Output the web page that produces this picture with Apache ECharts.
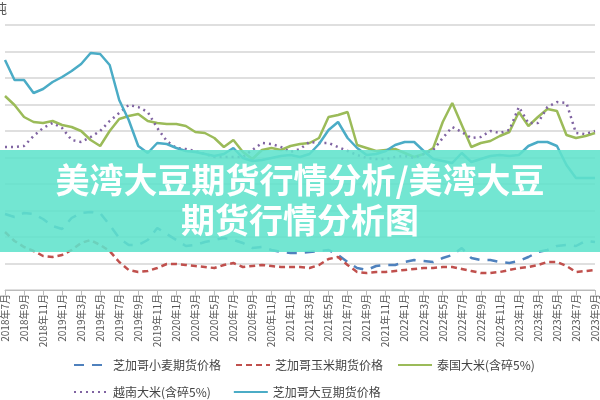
<!DOCTYPE html>
<html><head><meta charset="utf-8">
<script src="https://cdn.jsdelivr.net/npm/echarts@6/dist/echarts.min.js"></script>
<style>html,body{margin:0;padding:0;background:#fff}#c{width:600px;height:400px}</style>
</head><body><div id="c"></div>
<script>
const categories = [];
(function(){let y=2018,m=7;for(let i=0;i<63;i++){categories.push(y+'年'+m+'月');m++;if(m>12){m=1;y++;}}})();
const wheat = [76,73,77,76,71,64,61,72,77,78,77,65,52,45,45,50,62,56,50,44,45,48,50,52,50,47,42,43,40,38,37,37,38,39,40,35,28,22,20,24,25,25,28,30,29,28,32,35,42,32,30,30,28,27,29,33,38,40,44,45,44,49,48];
const corn = [58,49,43,39,34,33,35,40,47,50,45,39,28,20,18,19,22,26,26,25,24,23,22,25,27,23,24,25,24,23,23,23,22,25,31,33,25,18,17,18,18,19,20,21,22,22,23,23,21,19,17,17,18,20,22,23,25,28,28,24,18,19,20];
const thaiRice = [194,185,173,168,167,169,165,163,159,150,144,159,171,174,176,169,167,166,166,164,158,157,152,143,150,138,131,140,142,140,144,146,147,152,173,175,178,145,142,139,140,141,137,133,136,142,168,187,165,143,147,149,154,158,178,164,173,181,179,155,152,154,157];
const vietRice = [143,143,144,154,162,167,162,150,148,153,159,169,177,185,183,178,162,149,142,141,139,136,133,133,133,133,140,147,146,143,138,141,148,147,147,143,139,135,132,131,131,133,134,132,136,140,152,163,158,152,153,159,157,160,183,167,167,183,188,187,157,156,159];
const soybean = [230,210,210,197,201,208,213,219,226,237,236,225,190,170,144,137,147,146,142,139,138,136,134,136,142,132,129,130,132,134,135,133,136,146,160,168,152,142,135,136,139,145,148,148,139,131,129,127,137,128,131,134,135,134,135,144,148,148,144,125,112,112,112];
const names = ['芝加哥小麦期货价格','芝加哥玉米期货价格','泰国大米(含碎5%)','越南大米(含碎5%)','芝加哥大豆期货价格'];
const chart = echarts.init(document.getElementById('c'));
const ln = (name,data,color,type,w)=>({name,type:'line',data,symbol:'none',showSymbol:false,smooth:false,lineStyle:{color,width:w,type},itemStyle:{color}});
const txt = {fontSize:12,color:'#444',fontFamily:'Noto Sans CJK SC'};
const lg = {itemWidth:34,itemHeight:10,textStyle:txt,itemStyle:{opacity:0}};
chart.setOption({
  animation:false,
  grid:{left:3,right:5,top:25,bottom:110},
  xAxis:{type:'category',data:categories,boundaryGap:false,
    axisLine:{lineStyle:{color:'#bbb'}},axisTick:{show:true,interval:1,lineStyle:{color:'#bbb'}},
    axisLabel:{rotate:90,interval:1,fontSize:10,color:'#555',fontFamily:'Noto Sans CJK SC',margin:4}},
  yAxis:{type:'value',min:0,max:265,interval:26.5,axisLabel:{show:false},axisLine:{show:false},axisTick:{show:false},
    splitLine:{lineStyle:{color:'#d4d4d4',width:1.5}}},
  legend:[
    Object.assign({data:names.slice(0,3),left:68,top:354,itemGap:14},lg),
    Object.assign({data:names.slice(3),left:68,top:381,itemGap:22},lg)
  ],
  series:[
    ln(names[0],wheat,'#4f81bd',[10,8],2.5),
    ln(names[1],corn,'#c0504d',[6,4],2.5),
    ln(names[2],thaiRice,'#9bbb59','solid',2.5),
    ln(names[3],vietRice,'#8064a2',[2,4],2.5),
    ln(names[4],soybean,'#4bacc6','solid',2.5)
  ],
  graphic:[
    {type:'text',left:-6,top:2,style:{text:'吨',fontSize:13,fill:'#555',fontFamily:'Noto Sans CJK SC'}},
    {type:'rect',left:0,top:150,shape:{width:600,height:102},style:{fill:'rgba(96,226,204,0.88)'},z:100},
    {type:'text',left:'center',top:163,z:101,style:{text:'美湾大豆期货行情分析/美湾大豆',fontSize:34,fontWeight:'bold',fill:'#fff',fontFamily:'Noto Sans CJK SC',shadowColor:'rgba(0,0,0,0.2)',shadowBlur:2}},
    {type:'text',left:'center',top:203,z:101,style:{text:'期货行情分析图',fontSize:34,fontWeight:'bold',fill:'#fff',fontFamily:'Noto Sans CJK SC',shadowColor:'rgba(0,0,0,0.2)',shadowBlur:2}}
  ]
});
</script></body></html>
